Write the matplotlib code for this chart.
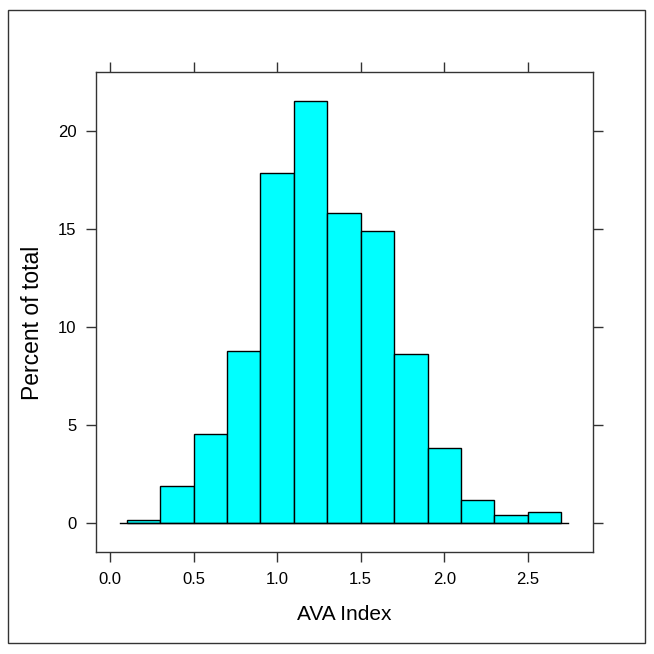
import numpy as np
import matplotlib.pyplot as plt
from matplotlib.patches import Rectangle

plt.rcParams['font.family'] = ['Liberation Sans', 'DejaVu Sans']

# Histogram bins (AVA Index) and percent of total per bin
bin_edges = [0.1, 0.3, 0.5, 0.7, 0.9, 1.1, 1.3, 1.5, 1.7, 1.9, 2.1, 2.3, 2.5, 2.7]
percents = [0.13, 1.89, 4.54, 8.78, 17.86, 21.53, 15.82, 14.90, 8.62, 3.83, 1.15, 0.42, 0.56]
x_ticks = [0.0, 0.5, 1.0, 1.5, 2.0, 2.5]
y_ticks = [0, 5, 10, 15, 20]

fig = plt.figure(figsize=(6.54, 6.54), dpi=100)
ax = fig.add_axes([96 / 654, 102 / 654, 497 / 654, 480 / 654])

edges = np.array(bin_edges)
ax.bar(edges[:-1], percents, width=np.diff(edges), align='edge',
       color='#00FFFF', edgecolor='black', linewidth=1.0, zorder=2)
ax.plot([0.06, 2.74], [0, 0], color='black', linewidth=1.0, zorder=3)

ax.set_xlim(-0.084, 2.89)
ax.set_ylim(-1.48, 23.0)
ax.set_xticks(x_ticks)
ax.set_xticklabels([f'{v:.1f}' for v in x_ticks])
ax.set_yticks(y_ticks)
ax.tick_params(axis='both', direction='out', length=7.2, width=1, color='#333333',
               labelsize=12, top=True, right=True, pad=7)
for s in ax.spines.values():
    s.set_color('#333333')
    s.set_linewidth(1.0)

ax.set_xlabel('AVA Index', fontsize=15, labelpad=13)
ax.set_ylabel('Percent of total', fontsize=16.5)
ax.yaxis.set_label_coords(-0.104, 0.477)

# outer border
fig.patches.append(Rectangle((8 / 654, 11 / 654), 637 / 654, 633 / 654,
                             transform=fig.transFigure, fill=False,
                             edgecolor='#333333', linewidth=1.0))

plt.savefig('out.png', dpi=100)
